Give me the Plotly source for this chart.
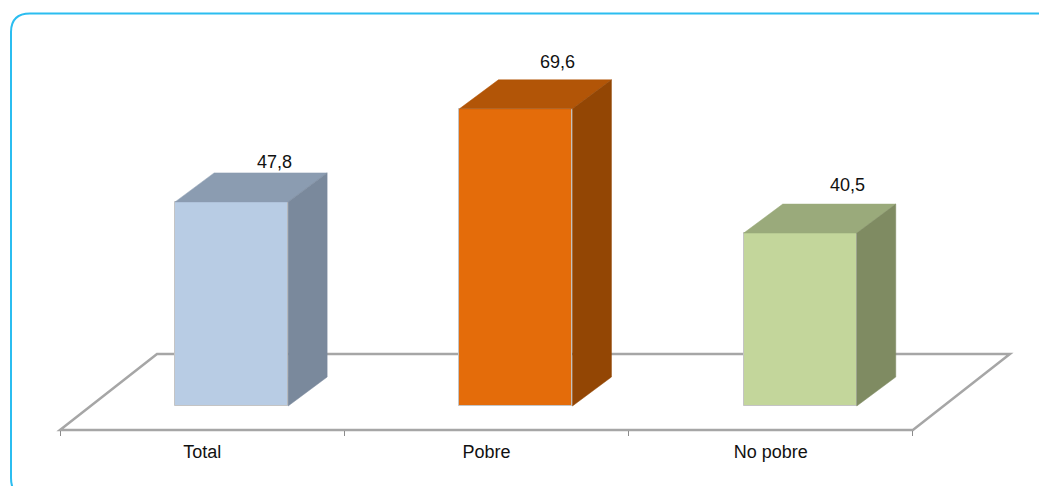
import plotly.graph_objects as go

categories = ["Total", "Pobre", "No pobre"]
values = [47.8, 69.6, 40.5]
value_labels = ["47,8", "69,6", "40,5"]
front_colors = ["#B8CCE4", "#E46C0A", "#C3D69B"]
top_colors = ["#8B9CB1", "#B25507", "#9AAA7B"]
side_colors = ["#7A899C", "#934604", "#7F8B62"]
label_dx = [43, 42, 47]
label_dy = [-11, -18, -19]

W, H = 1039, 486
PX_X = 284.3     # pixels per category
PX_Y = 4.27      # pixels per value unit
AXIS_LEFT, AXIS_BOTTOM = 60, 430
ZERO_PY = 406
DEPTH_PX_X, DEPTH_PX_Y = 39, 29
FLOOR_PX_X, FLOOR_PX_Y = 97, 76
BAR_SHIFT_PX = 29.5
BAR_W_PX = 113

x0 = -0.5 - AXIS_LEFT / PX_X
x1 = x0 + W / PX_X
y0 = -(AXIS_BOTTOM - ZERO_PY) / PX_Y
y1 = ZERO_PY / PX_Y
dx, dy = DEPTH_PX_X / PX_X, DEPTH_PX_Y / PX_Y
shift = BAR_SHIFT_PX / PX_X
bw = BAR_W_PX / PX_X
fdx = FLOOR_PX_X / PX_X
n = len(categories)

fig = go.Figure()
positions = [i + shift for i in range(n)]
fig.add_trace(go.Bar(
    x=positions, y=values, width=bw, marker=dict(color=front_colors, line=dict(color="#C4C4C4", width=1)),
    hoverinfo="skip", showlegend=False))

for i, v in enumerate(values):
    l, r = positions[i] - bw / 2, positions[i] + bw / 2
    fig.add_trace(go.Scatter(
        x=[l, r, r + dx, l + dx, l], y=[v, v, v + dy, v + dy, v],
        mode="lines", fill="toself", fillcolor=top_colors[i],
        line=dict(color=top_colors[i], width=0.5), hoverinfo="skip", showlegend=False))
    fig.add_trace(go.Scatter(
        x=[r, r + dx, r + dx, r, r], y=[v, v + dy, dy, 0, v],
        mode="lines", fill="toself", fillcolor=side_colors[i],
        line=dict(color=side_colors[i], width=0.5), hoverinfo="skip", showlegend=False))
    fig.add_annotation(
        x=positions[i], y=v + dy, text=value_labels[i], showarrow=False,
        xshift=label_dx[i], yshift=-label_dy[i],
        font=dict(family="Liberation Sans", size=18, color="#111111"))

floor_color = "#A6A6A6"
fl, fr = -0.5, n - 0.5
front_y = 1 - AXIS_BOTTOM / H
back_y = 1 - (AXIS_BOTTOM - FLOOR_PX_Y) / H
shapes = [
    dict(type="path", xref="x", yref="paper", layer="below",
         path=f"M {fl},{front_y} L {fr},{front_y} L {fr + fdx},{back_y} L {fl + fdx},{back_y} Z",
         line=dict(color=floor_color, width=2.5), fillcolor="white"),
    dict(type="path", xref="paper", yref="paper", layer="below",
         path=(f"M {1045 / W},{1 - 13.5 / H} L {30 / W},{1 - 13.5 / H} "
               f"Q {11 / W},{1 - 13.5 / H} {11 / W},{1 - 32 / H} "
               f"L {11 / W},{1 - 478 / H} Q {11 / W},{1 - 486 / H} {14 / W},{1 - 490 / H}"),
         line=dict(color="#2BBDF0", width=2)),
]

fig.update_layout(
    width=W, height=H, margin=dict(l=0, r=0, t=0, b=0),
    paper_bgcolor="white", plot_bgcolor="rgba(0,0,0,0)",
    shapes=shapes, showlegend=False, bargap=0,
    font=dict(family="Liberation Sans", size=18, color="#111111"),
    xaxis=dict(range=[x0, x1], tickvals=list(range(n)), ticktext=categories,
               ticks="", ticklen=0, ticklabelstandoff=9, showline=False, showgrid=False, zeroline=False,
               minor=dict(tickvals=[i - 0.5 for i in range(n + 1)], ticks="outside", ticklen=5,
                          tickwidth=1, tickcolor="#8C8C8C", showgrid=False)),
    yaxis=dict(range=[y0, y1], domain=[1 - AXIS_BOTTOM / H, 1], visible=False),
)
fig.write_html("out.html", config=dict(displayModeBar=False),
               post_script="document.body.style.margin='0';")
